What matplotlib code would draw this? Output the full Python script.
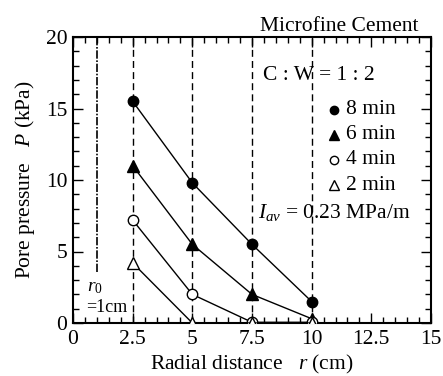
import matplotlib
matplotlib.use('Agg')
import matplotlib.pyplot as plt
from matplotlib.ticker import MultipleLocator

plt.rcParams['font.family'] = ['Liberation Serif', 'DejaVu Serif']
plt.rcParams['mathtext.fontset'] = 'custom'
plt.rcParams['mathtext.rm'] = 'Liberation Serif'
plt.rcParams['mathtext.it'] = 'Liberation Serif:italic'

# data
radius = [2.5, 5, 7.5, 10]
p_8min = [15.5, 9.8, 5.5, 1.5]
p_6min = [11.0, 5.5, 2.0, 0.3]
p_4min = [7.2, 2.0, 0.05, 0.05]
p_2min = [4.2, 0.0, 0.0, 0.0]
series_labels = ['8 min', '6 min', '4 min', '2 min']
r0 = 1.0

FS = 15.5

fig = plt.figure(figsize=(4.43, 3.76), dpi=100)
ax = fig.add_axes([73 / 443, 1 - 323 / 376, (431 - 73) / 443, (323 - 37) / 376])

# guide lines
for r in radius:
    ax.plot([r, r], [0, 20], color='black', lw=1.0, ls=(0, (5, 3)), zorder=1)
ax.plot([r0, r0], [3.6, 20], color='black', lw=1.2, ls=(0, (5, 1, 1, 1)), zorder=1)

ms = 7.5
ax.plot(radius, p_8min, '-', color='black', lw=1.0, marker='o', ms=ms,
        mfc='black', mec='black', zorder=3)
ax.plot(radius, p_6min, '-', color='black', lw=1.0, marker='^', ms=ms + 0.5,
        mfc='black', mec='black', zorder=3)
ax.plot(radius, p_4min, '-', color='black', lw=1.0, marker='o', ms=ms,
        mfc='white', mec='black', mew=1.0, zorder=4)
ax.plot(radius, p_2min, '-', color='black', lw=1.0, marker='^', ms=ms + 0.5,
        mfc='white', mec='black', mew=1.0, zorder=5)

ax.set_xlim(0, 15)
ax.set_ylim(0, 20)
ax.xaxis.set_minor_locator(MultipleLocator(0.5))
ax.yaxis.set_major_locator(MultipleLocator(5))
ax.yaxis.set_minor_locator(MultipleLocator(1))
ax.set_xticks([0, 2.5, 5, 7.5, 10, 12.5, 15])
ax.set_xticklabels(['0', '2.5', '5', '7.5', '10', '12.5', '15'])
ax.tick_params(which='both', direction='in', top=True, right=True, labelsize=FS, width=1.0)
ax.tick_params(which='major', length=7)
ax.tick_params(which='minor', length=4)
ax.tick_params(axis='x', which='major', pad=5)
ax.tick_params(axis='y', which='major', pad=4)
for s in ax.spines.values():
    s.set_linewidth(1.5)

ax.set_xlabel('Radial distance   $r$ (cm)', fontsize=FS, labelpad=3)
ax.set_ylabel('Pore pressure   $P$ (kPa)', fontsize=FS, labelpad=6)

ax.text(0.964, 1.005, 'Microfine Cement', transform=ax.transAxes, ha='right', va='bottom', fontsize=FS)
ax.text(7.96, 17.3, 'C : W = 1 : 2', ha='left', va='center', fontsize=FS)

# legend drawn by hand to match the layout
leg_x_marker = 10.95
leg_x_text = 11.45
leg_y = [14.9, 13.15, 11.4, 9.65]
ax.plot(leg_x_marker, leg_y[0], 'o', ms=6, mfc='black', mec='black')
ax.plot(leg_x_marker, leg_y[1], '^', ms=6.5, mfc='black', mec='black')
ax.plot(leg_x_marker, leg_y[2], 'o', ms=6, mfc='white', mec='black')
ax.plot(leg_x_marker, leg_y[3], '^', ms=6.5, mfc='white', mec='black')
for y, lab in zip(leg_y, series_labels):
    ax.text(leg_x_text, y, lab, ha='left', va='center', fontsize=FS)

ax.text(7.75, 7.7, '$I_{av}$ = 0.23 MPa/m', ha='left', va='center', fontsize=FS)
ax.text(0.6, 2.5, '$r_0$', ha='left', va='center', fontsize=14)
ax.text(0.55, 1.1, '=1cm', ha='left', va='center', fontsize=13)

fig.savefig('out.png', dpi=100)
